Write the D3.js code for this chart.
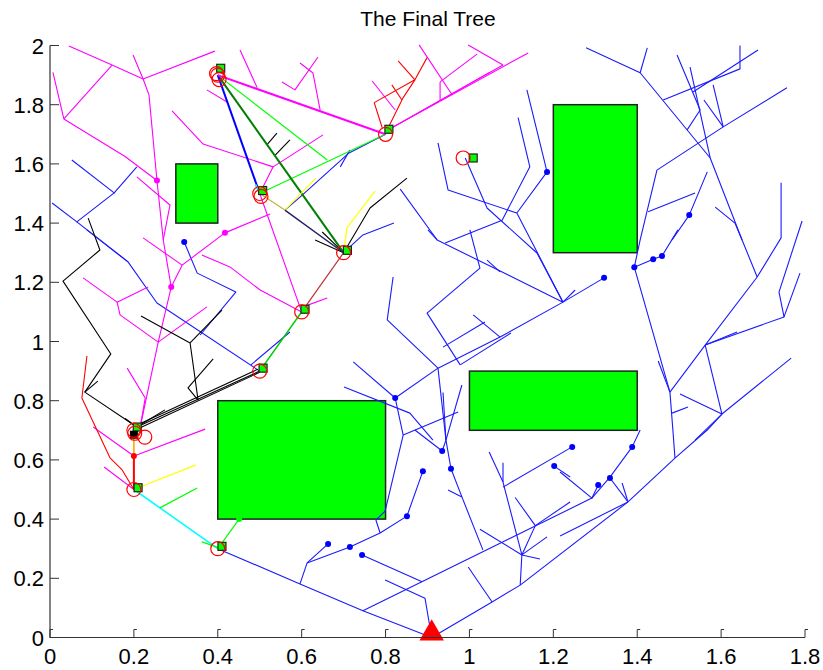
<!DOCTYPE html>
<html>
<head>
<meta charset="utf-8">
<script src="https://d3js.org/d3.v7.min.js"></script>
<style>
body { margin: 0; background: #fff; }
</style>
</head>
<body>
<div id="chart"></div>
<script>
// axes
var xTicks = [0, 0.2, 0.4, 0.6, 0.8, 1, 1.2, 1.4, 1.6, 1.8];
var yTicks = [0, 0.2, 0.4, 0.6, 0.8, 1, 1.2, 1.4, 1.6, 1.8, 2];
var xTickLabels = ['0', '0.2', '0.4', '0.6', '0.8', '1', '1.2', '1.4', '1.6', '1.8'];
var yTickLabels = ['0', '0.2', '0.4', '0.6', '0.8', '1', '1.2', '1.4', '1.6', '1.8', '2'];

// obstacles: [xmin, ymin, xmax, ymax]
var obstacles = [
    [0.3, 1.4, 0.4, 1.6],
    [1.2, 1.3, 1.4, 1.8],
    [1.0, 0.7, 1.4, 0.9],
    [0.4, 0.4, 0.8, 0.8]
];

var start = [0.91, 0];

// main tree grown from the start
var blueBranches = [
    [[0.91, 0], [0.746, 0.09], [0.596, 0.181], [0.4, 0.3]],
    [[0.596, 0.181], [0.613, 0.252], [0.663, 0.316]],
    [[0.613, 0.252], [0.715, 0.306], [0.787, 0.353], [0.851, 0.41], [0.889, 0.562]],
    [[0.787, 0.353], [0.777, 0.397], [0.799, 0.427], [0.842, 0.684], [0.823, 0.809]],
    [[0.744, 0.279], [0.887, 0.188]],
    [[0.91, 0], [0.894, 0.133], [0.799, 0.194]],
    [[0.87, 0.701], [0.935, 0.63], [0.944, 0.667]],
    [[0.944, 0.667], [0.956, 0.57], [0.982, 0.475], [1.032, 0.296]],
    [[0.949, 0.498], [0.982, 0.475]],
    [[0.746, 0.09], [1.292, 0.471]],
    [[0.91, 0], [1.054, 0.12], [1.121, 0.177], [1.378, 0.458]],
    [[1.054, 0.12], [0.997, 0.238]],
    [[1.121, 0.177], [1.125, 0.279], [1.08, 0.525], [1.047, 0.627]],
    [[1.025, 0.366], [1.125, 0.279]],
    [[1.109, 0.473], [1.157, 0.378], [1.125, 0.279]],
    [[1.157, 0.378], [1.24, 0.458]],
    [[1.125, 0.279], [1.185, 0.34]],
    [[1.125, 0.279], [1.168, 0.265]],
    [[1.08, 0.59], [1.08, 0.525]],
    [[1.08, 0.508], [1.245, 0.644]],
    [[1.216, 0.559], [1.292, 0.471], [1.307, 0.515]],
    [[1.292, 0.471], [1.335, 0.542], [1.388, 0.644], [1.407, 0.701]],
    [[1.335, 0.539], [1.378, 0.458]],
    [[1.364, 0.522], [1.378, 0.458]],
    [[1.378, 0.458], [1.49, 0.606], [1.567, 0.701], [1.602, 0.755], [1.767, 0.944]],
    [[1.49, 0.606], [1.485, 0.701], [1.478, 0.829], [1.393, 1.251]],
    [[1.378, 0.458], [1.216, 0.343]],
    [[1.202, 0.579], [1.24, 0.542]],
    [[1.393, 1.251], [1.438, 1.278], [1.459, 1.289], [1.497, 1.377]],
    [[1.478, 0.829], [1.562, 0.988], [1.686, 1.218], [1.743, 1.35], [1.743, 1.536]],
    [[1.407, 1.908], [1.574, 1.62], [1.65, 1.343], [1.686, 1.218]],
    [[1.562, 0.988], [1.75, 1.083], [1.738, 1.167], [1.793, 1.407]],
    [[1.788, 1.231], [1.75, 1.083]],
    [[1.562, 0.988], [1.638, 1.032]],
    [[1.562, 0.988], [1.602, 0.755]],
    [[1.502, 0.823], [1.602, 0.755], [1.538, 0.667]],
    [[1.45, 0.934], [1.478, 0.829]],
    [[1.483, 0.758], [1.521, 0.779]],
    [[1.393, 1.251], [1.407, 1.343], [1.447, 1.579], [1.605, 1.725], [1.757, 1.857]],
    [[1.581, 1.867], [1.605, 1.725]],
    [[1.559, 1.816], [1.605, 1.725]],
    [[1.278, 1.992], [1.407, 1.908], [1.424, 1.992]],
    [[1.495, 1.968], [1.55, 1.782], [1.519, 1.715]],
    [[1.526, 1.927], [1.574, 1.62]],
    [[1.462, 1.816], [1.645, 1.921], [1.645, 2.0]],
    [[1.533, 1.843], [1.688, 1.985]],
    [[1.426, 1.438], [1.538, 1.502]],
    [[1.567, 1.573], [1.524, 1.427], [1.483, 1.343]],
    [[1.586, 1.454], [1.633, 1.4], [1.65, 1.343]],
    [[1.321, 1.215], [1.223, 1.133]],
    [[1.252, 1.174], [1.223, 1.133]],
    [[1.223, 1.133], [1.113, 1.434], [1.185, 1.573], [1.137, 1.85]],
    [[1.113, 1.434], [0.949, 1.512], [0.925, 1.671]],
    [[0.99, 1.62], [1.042, 1.451], [1.161, 1.299], [1.223, 1.133]],
    [[1.116, 1.756], [1.144, 1.59], [1.078, 1.41], [0.942, 1.333]],
    [[0.835, 1.515], [0.923, 1.343], [1.223, 1.133]],
    [[0.901, 1.377], [0.923, 1.343]],
    [[1.001, 1.377], [1.025, 1.248], [0.899, 1.096], [0.978, 0.921]],
    [[1.042, 1.275], [1.073, 1.235]],
    [[0.818, 1.218], [0.804, 1.073], [0.925, 0.91]],
    [[1.223, 1.133], [1.073, 1.015], [0.925, 0.91], [0.823, 0.809]],
    [[1.009, 1.09], [1.073, 1.015]],
    [[0.937, 0.981], [1.037, 1.066]],
    [[1.099, 1.029], [0.978, 0.921]],
    [[0.723, 0.931], [0.823, 0.809]],
    [[0.701, 0.846], [0.858, 0.758], [0.913, 0.667]],
    [[0.842, 0.684], [0.973, 0.762]],
    [[0.925, 0.91], [0.944, 0.667]],
    [[0.937, 0.828], [0.944, 0.667]],
    [[0.982, 0.853], [0.944, 0.667]],
    [[0.7, 1.3], [0.746, 1.36], [0.82, 1.4]],
    [[0.8, 1.7], [0.713, 1.637], [0.596, 1.488], [0.56, 1.444]],
    [[0.692, 1.59], [0.715, 1.647]],
    [[0.052, 1.613], [0.153, 1.502], [0.207, 1.59]],
    [[0.005, 1.468], [0.064, 1.404], [0.153, 1.502]],
    [[0.064, 1.404], [0.186, 1.269], [0.255, 1.13], [0.5, 0.9]],
    [[0.088, 1.377], [0.186, 1.269]],
    [[0.32, 1.336], [0.351, 1.231], [0.443, 1.167], [0.358, 1.022]],
    [[0.479, 0.921], [0.572, 1.032]]
];
var blueDots = [
    [0.663, 0.316], [0.715, 0.306], [0.744, 0.279], [0.851, 0.41], [0.889, 0.562],
    [0.935, 0.63], [0.956, 0.57], [1.202, 0.579], [1.245, 0.644], [1.307, 0.515],
    [1.335, 0.539], [1.388, 0.644], [0.823, 0.809], [1.185, 1.573], [1.321, 1.215],
    [1.393, 1.251], [1.438, 1.278], [1.459, 1.289], [1.524, 1.427], [0.32, 1.336]
];

var magentaBranches = [
    [[0.045, 1.998], [0.148, 1.934], [0.222, 1.887], [0.393, 1.981]],
    [[0.148, 1.934], [0.033, 1.752]],
    [[0.007, 1.909], [0.033, 1.752], [0.179, 1.625], [0.255, 1.544]],
    [[0.198, 1.968], [0.222, 1.887], [0.236, 1.833], [0.255, 1.544], [0.27, 1.343], [0.289, 1.184], [0.258, 0.998], [0.215, 0.711]],
    [[0.207, 1.556], [0.286, 1.461], [0.27, 1.343]],
    [[0.291, 1.779], [0.365, 1.667], [0.532, 1.59], [0.651, 1.698]],
    [[0.532, 1.59], [0.5, 1.5], [0.6, 1.1]],
    [[0.417, 1.367], [0.525, 1.431]],
    [[0.417, 1.367], [0.315, 1.258], [0.289, 1.184]],
    [[0.222, 1.35], [0.315, 1.258]],
    [[0.079, 1.215], [0.16, 1.133], [0.234, 1.184]],
    [[0.16, 1.133], [0.167, 1.09], [0.258, 0.998], [0.374, 1.117]],
    [[0.362, 1.292], [0.429, 1.252], [0.501, 1.174], [0.6, 1.1]],
    [[0.184, 0.91], [0.227, 0.809], [0.215, 0.711]],
    [[0.103, 0.711], [0.2, 0.613], [0.37, 0.704]],
    [[0.129, 0.576], [0.2, 0.5]],
    [[0.453, 1.985], [0.494, 1.857]],
    [[0.374, 1.85], [0.422, 1.809]],
    [[0.553, 1.877], [0.584, 1.85], [0.639, 1.961]],
    [[0.596, 1.941], [0.627, 1.907], [0.644, 1.782]],
    [[0.768, 1.88], [0.823, 1.782]],
    [[0.806, 1.715], [1.14, 1.975]],
    [[0.806, 1.715], [1.08, 1.934]],
    [[0.806, 1.715], [1.049, 1.91]],
    [[0.93, 1.877], [0.93, 1.816]],
    [[0.93, 1.877], [1.018, 1.971]],
    [[0.88, 2.002], [0.959, 1.833]],
    [[0.997, 2.002], [1.08, 1.934]],
    [[0.603, 1.117], [0.661, 1.147]]
];
var magentaDots = [[0.255, 1.544], [0.289, 1.184], [0.417, 1.367]];

var blackBranches = [
    [[0.207, 0.711], [0.083, 0.829], [0.145, 0.958], [0.031, 1.204], [0.119, 1.309], [0.091, 1.417]],
    [[0.083, 0.829], [0.114, 0.866]],
    [[0.207, 0.711], [0.5, 0.9]],
    [[0.21, 0.705], [0.5, 0.896]],
    [[0.205, 0.716], [0.495, 0.906]],
    [[0.353, 0.802], [0.334, 0.995], [0.217, 1.086]],
    [[0.334, 0.995], [0.41, 1.106]],
    [[0.353, 0.802], [0.329, 0.843], [0.389, 0.941]],
    [[0.207, 0.711], [0.274, 0.769]],
    [[0.207, 0.711], [0.179, 0.74]],
    [[0.517, 1.664], [0.541, 1.704]],
    [[0.537, 1.63], [0.572, 1.681]],
    [[0.7, 1.3], [0.632, 1.343]],
    [[0.7, 1.3], [0.649, 1.37]],
    [[0.7, 1.3], [0.763, 1.451], [0.851, 1.552]]
];

var redBranches = [
    [[0.2, 0.5], [0.172, 0.566], [0.143, 0.607], [0.076, 0.809], [0.088, 0.951]],
    [[0.792, 1.722], [0.773, 1.807], [0.87, 1.884], [0.899, 1.959]],
    [[0.804, 1.715], [0.842, 1.824], [0.87, 1.884]],
    [[0.83, 1.948], [0.87, 1.884]],
    [[0.815, 1.867], [0.839, 1.816]]
];

// coloured links between the way points
var links = [
    {from: [0.2, 0.5], to: [0.4, 0.3], color: '#00ffff', width: 1.6},
    {from: [0.262, 0.438], to: [0.351, 0.505], color: '#00ff00', width: 1.2},
    {from: [0.4, 0.3], to: [0.451, 0.4], color: '#00ff00', width: 1.2},
    {from: [0.362, 0.323], to: [0.405, 0.302], color: '#00ff00', width: 1.2},
    {from: [0.2, 0.5], to: [0.348, 0.583], color: '#ffff00', width: 1.2},
    {from: [0.2, 0.5], to: [0.2, 0.613], color: '#ff0000', width: 2},
    {from: [0.2, 0.613], to: [0.2, 0.685], color: '#ffa500', width: 1.6},
    {from: [0.5, 0.9], to: [0.6, 1.1], color: '#00cc00', width: 1.6},
    {from: [0.6, 1.1], to: [0.7, 1.3], color: '#c03030', width: 1.2},
    {from: [0.4, 1.9], to: [0.661, 1.613], color: '#00ff00', width: 1.2},
    {from: [0.5, 1.5], to: [0.8, 1.7], color: '#00ff00', width: 1.2},
    {from: [0.4, 1.9], to: [0.7, 1.3], color: '#008000', width: 2},
    {from: [0.4, 1.9], to: [0.5, 1.5], color: '#0000ff', width: 2},
    {from: [0.4, 1.9], to: [0.8, 1.7], color: '#ff00ff', width: 2},
    {from: [0.5, 1.5], to: [0.56, 1.444], color: '#c8b040', width: 1.2},
    {from: [0.56, 1.444], to: [0.634, 1.552], color: '#ffff00', width: 1.2},
    {from: [0.56, 1.444], to: [0.7, 1.3], color: '#202060', width: 1.4},
    {from: [0.7, 1.3], to: [0.708, 1.384], color: '#ffff00', width: 1.2},
    {from: [0.708, 1.384], to: [0.775, 1.508], color: '#ffff00', width: 1.2},
    {from: [0.49, 1.53], to: [0.5, 1.5], color: '#00ffff', width: 2}
];
var redDots = [[0.2, 0.613]];
var greenDots = [[0.451, 0.4]];

var circles = [
    [0.4, 0.3], [0.2, 0.5], [0.2, 0.7], [0.202, 0.69], [0.226, 0.677],
    [0.5, 0.9], [0.6, 1.1], [0.7, 1.3], [0.5, 1.5], [0.503, 1.49],
    [0.4, 1.9], [0.403, 1.885], [0.397, 1.905], [0.8, 1.7], [0.985, 1.62]
];
var squares = [
    [0.41, 0.308], [0.21, 0.506], [0.208, 0.711], [0.508, 0.91], [0.608, 1.109],
    [0.709, 1.308], [0.507, 1.51], [0.407, 1.923], [0.808, 1.717], [1.009, 1.62]
];
var blackSquares = [[0.2, 0.685]];

var dim = {width: 823, height: 670};

var svg = d3.select('#chart').append('svg')
    .attr('width', dim.width)
    .attr('height', dim.height)
    .style('font-family', '"Liberation Sans", Arial, sans-serif')
    .style('display', 'block');

svg.append('rect').attr('width', dim.width).attr('height', dim.height).attr('fill', '#fff');

var x = d3.scaleLinear().domain([0, 1.8]).range([50, 805]);
var y = d3.scaleLinear().domain([0, 2]).range([637.5, 45.5]);

var line = d3.line().x(d => x(d[0])).y(d => y(d[1]));

// title
svg.append('text')
    .attr('x', 428).attr('y', 26)
    .attr('text-anchor', 'middle')
    .attr('font-size', 21)
    .text('The Final Tree');

// obstacles
svg.append('g').selectAll('rect')
    .data(obstacles).enter()
    .append('rect')
    .attr('x', d => x(d[0]))
    .attr('y', d => y(d[3]))
    .attr('width', d => x(d[2]) - x(d[0]))
    .attr('height', d => y(d[1]) - y(d[3]))
    .attr('fill', '#00ff00')
    .attr('stroke', '#222')
    .attr('stroke-width', 1.5);

function drawBranches(data, color, w) {
    svg.append('g').selectAll('path')
        .data(data).enter()
        .append('path')
        .attr('d', line)
        .attr('fill', 'none')
        .attr('stroke', color)
        .attr('stroke-width', w)
        .attr('stroke-linejoin', 'round');
}
function drawDots(data, color, r) {
    svg.append('g').selectAll('circle')
        .data(data).enter()
        .append('circle')
        .attr('cx', d => x(d[0]))
        .attr('cy', d => y(d[1]))
        .attr('r', r)
        .attr('fill', color);
}

drawBranches(blueBranches, '#1a1aff', 1.1);
drawBranches(magentaBranches, '#ff00ff', 1.1);
drawBranches(blackBranches, '#000', 1.1);
drawBranches(redBranches, '#ff0000', 1.1);

svg.append('g').selectAll('path')
    .data(links).enter()
    .append('path')
    .attr('d', d => line([d.from, d.to]))
    .attr('fill', 'none')
    .attr('stroke', d => d.color)
    .attr('stroke-width', d => d.width);

drawDots(blueDots, '#0000ff', 3);
drawDots(magentaDots, '#ff00ff', 3);
drawDots(redDots, '#ff0000', 3);
drawDots(greenDots, '#00ff00', 3);

// way point markers
svg.append('g').selectAll('rect')
    .data(squares).enter()
    .append('rect')
    .attr('x', d => x(d[0]) - 4)
    .attr('y', d => y(d[1]) - 4)
    .attr('width', 8).attr('height', 8)
    .attr('fill', '#00ff00')
    .attr('stroke', '#222')
    .attr('stroke-width', 1.2);

svg.append('g').selectAll('rect')
    .data(blackSquares).enter()
    .append('rect')
    .attr('x', d => x(d[0]) - 4)
    .attr('y', d => y(d[1]) - 4)
    .attr('width', 8).attr('height', 8)
    .attr('fill', '#000');

svg.append('g').selectAll('circle')
    .data(circles).enter()
    .append('circle')
    .attr('cx', d => x(d[0]))
    .attr('cy', d => y(d[1]))
    .attr('r', 7)
    .attr('fill', 'none')
    .attr('stroke', '#ff0000')
    .attr('stroke-width', 1.2);

// start marker
svg.append('path')
    .attr('d', d3.symbol().type(d3.symbolTriangle).size(260))
    .attr('transform', 'translate(' + x(start[0]) + ',' + (y(start[1]) - 4) + ')')
    .attr('fill', '#ff0000');

// axes
var axisG = svg.append('g').attr('stroke', '#333').attr('fill', 'none');
axisG.append('path')
    .attr('d', 'M' + x(0) + ',' + y(2) + 'V' + y(0) + 'H' + x(1.8))
    .attr('stroke-width', 1.2);
axisG.selectAll('.xt')
    .data(xTicks).enter()
    .append('path')
    .attr('d', d => 'M' + x(d) + ',' + y(0) + 'v-8h3');
axisG.selectAll('.yt')
    .data(yTicks).enter()
    .append('path')
    .attr('d', d => 'M' + x(0) + ',' + y(d) + 'h9');

svg.append('g').selectAll('text')
    .data(xTicks).enter()
    .append('text')
    .attr('x', d => x(d))
    .attr('y', 664)
    .attr('text-anchor', 'middle')
    .attr('font-size', 22)
    .text((d, i) => xTickLabels[i]);

svg.append('g').selectAll('text')
    .data(yTicks).enter()
    .append('text')
    .attr('x', 44)
    .attr('y', d => y(d) + 8)
    .attr('text-anchor', 'end')
    .attr('font-size', 22)
    .text((d, i) => yTickLabels[i]);
</script>
</body>
</html>
